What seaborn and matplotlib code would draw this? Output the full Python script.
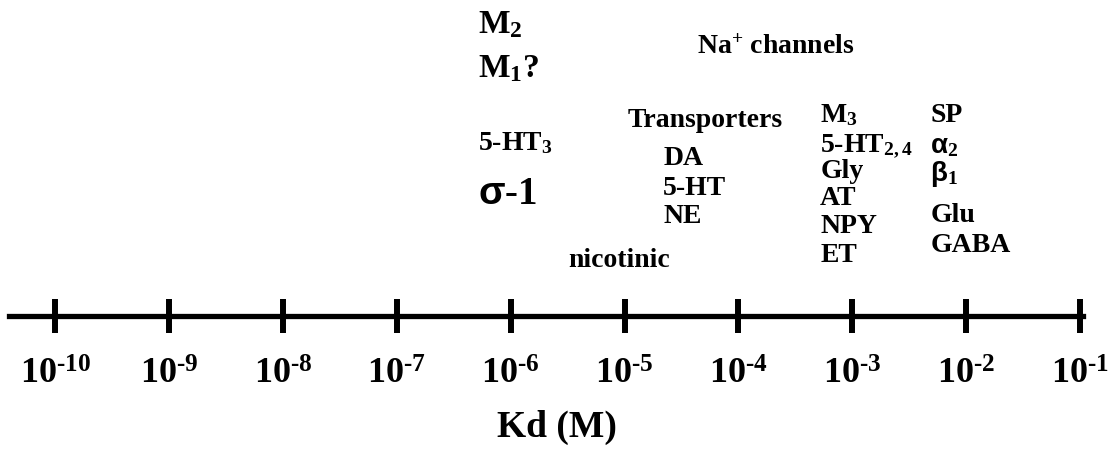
import matplotlib
matplotlib.use("Agg")
import matplotlib.pyplot as plt
import seaborn as sns
import numpy as np

# ---- data ----
decades = [1e-10, 1e-9, 1e-8, 1e-7, 1e-6, 1e-5, 1e-4, 1e-3, 1e-2, 1e-1]
tick_labels = ["10$^{\u2010" + str(e) + "}$" for e in [10, 9, 8, 7, 6, 5, 4, 3, 2, 1]]
x_label = "Kd (M)"

labels = ["M$_2$", "M$_1$?", "5-HT$_3$", "$\\mathsf{\u03c3}$-1",
          "$\\mathrm{Na}^{+}$ channels",
          "Transporters", "DA", "5-HT", "NE",
          "nicotinic",
          "M$_3$", "5-HT$_{2,4}$", "Gly", "AT", "NPY", "ET",
          "SP", "$\\mathsf{\u03b1}_2$", "$\\mathsf{\u03b2}_1$", "Glu", "GABA"]
label_kd = [5.16e-7, 5.16e-7, 5.16e-7, 5.16e-7,
            4.34e-5,
            1.07e-5, 2.18e-5, 2.18e-5, 2.18e-5,
            3.19e-6,
            5.22e-4, 5.22e-4, 5.22e-4, 5.22e-4, 5.22e-4, 5.22e-4,
            4.84e-3, 4.84e-3, 4.84e-3, 4.84e-3, 4.84e-3]
label_height = [0.896, 0.756, 0.525, 0.354,
                0.829,
                0.598, 0.478, 0.383, 0.294,
                0.155,
                0.614, 0.522, 0.437, 0.351, 0.263, 0.171,
                0.614, 0.516, 0.427, 0.297, 0.203]
label_size = [24, 24, 20, 28,
              20,
              20, 20, 20, 20,
              20,
              20, 20, 20, 20, 20, 20,
              20, 20, 20, 20, 20]

# ---- style ----
sns.set_theme(style="white")
plt.rcParams['font.family'] = ['Liberation Serif', 'DejaVu Serif']
plt.rcParams['font.weight'] = 'bold'
plt.rcParams['mathtext.fontset'] = 'custom'
plt.rcParams['mathtext.rm'] = 'Liberation Serif:bold'
plt.rcParams['mathtext.it'] = 'Liberation Serif:bold'
plt.rcParams['mathtext.bf'] = 'Liberation Serif:bold'
plt.rcParams['mathtext.sf'] = 'Liberation Sans:bold'

fig = plt.figure(figsize=(11.12, 4.5), dpi=100)
ax = fig.add_axes([9/1112, 134/450, (1083-9)/1112, 316/450])
ax.set_xscale('log')
ax.set_xlim(10**-10.408, 10**-0.9736)
ax.set_ylim(0, 1)

for s in ['top', 'left', 'right']:
    ax.spines[s].set_visible(False)
ax.spines['bottom'].set_linewidth(3.8)
ax.spines['bottom'].set_color('black')
ax.set_yticks([])
ax.set_xticks(decades)
ax.set_xticklabels(tick_labels)
ax.xaxis.set_minor_locator(matplotlib.ticker.NullLocator())
ax.tick_params(axis='x', which='major', direction='inout', length=24.5,
               width=4.3, color='black', labelsize=26, pad=18.5,
               bottom=True, labelcolor='black')
for t in ax.get_xticklabels():
    t.set_fontweight('bold')
ax.set_xlabel(x_label, fontsize=27, fontweight='bold', labelpad=13, color='black')
ax.xaxis.label.set_x(0.51)

for lab, kd, h, fs in zip(labels, label_kd, label_height, label_size):
    ax.text(kd, h, lab, fontsize=fs, fontweight='bold', ha='left', va='baseline',
            color='black')

fig.savefig("out.png", dpi=100, facecolor='white')
